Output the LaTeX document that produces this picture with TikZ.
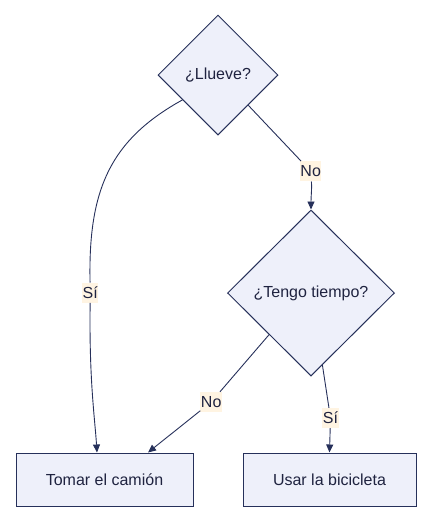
\documentclass[tikz,border=0pt]{standalone}
\usepackage{fontspec}
\setmainfont{Liberation Sans}
\usepackage{tikz}
\usetikzlibrary{shapes.geometric}
\usetikzlibrary{arrows.meta}

\definecolor{nodefill}{HTML}{EEF0FA}
\definecolor{nodeline}{HTML}{26305A}
\definecolor{textcol}{HTML}{1F2340}
\definecolor{lblfill}{HTML}{FFF4E2}

\tikzset{
    question/.style={diamond, draw=nodeline, fill=nodefill, line width=1pt, inner sep=0pt, text=textcol, font=\fontsize{16}{19}\selectfont},
    action/.style={rectangle, draw=nodeline, fill=nodefill, line width=1pt, minimum height=53pt, text=textcol, font=\fontsize{16}{19}\selectfont},
    lbl/.style={rectangle, fill=lblfill, inner xsep=0.5pt, inner ysep=0pt, minimum height=20pt, text=textcol, font=\fontsize{16}{19}\selectfont},
    flow/.style={draw=nodeline, line width=0.9pt},
    arr/.style={flow, -{Triangle[length=8pt, width=7pt]}}
}

\begin{document}
\begin{tikzpicture}[x=1pt, y=-1pt]
        \useasboundingbox (0,0) rectangle (432,523);

        % Nodes
        \node[question, minimum width=120pt, minimum height=120pt] (llueve) at (218, 75) {¿Llueve?};
        \node[question, minimum width=167pt, minimum height=166pt] (tiempo) at (311, 293) {¿Tengo tiempo?};
        \node[action, minimum width=177pt] (camion) at (104.5, 479.5) {Tomar el camión};
        \node[action, minimum width=173pt] (bici) at (329.5, 479.5) {Usar la bicicleta};

        % Labels
        \node[lbl] (si1) at (90.3, 292.7) {Sí};
        \node[lbl] (no1) at (310.7, 171.3) {No};
        \node[lbl] (no2) at (211.2, 402) {No};
        \node[lbl] (si2) at (330.5, 418) {Sí};

        % Lines
        \draw[flow] (llueve.215) .. controls (110, 140) and (88, 190) .. (si1);
        \draw[arr] (si1) .. controls (89, 380) and (95, 420) .. ([xshift=-7.5pt]camion.north);
        \draw[flow] (llueve.south east) -- (no1);
        \draw[arr] (no1) .. controls (312, 190) and (311, 195) .. (tiempo.north);
        \draw[flow] (tiempo.south west) -- (no2);
        \draw[arr] (no2) -- ([xshift=43.5pt]camion.north);
        \draw[flow] (tiempo.-81) -- (si2);
        \draw[arr] (si2) -- (bici.north);
    \end{tikzpicture}
\end{document}
